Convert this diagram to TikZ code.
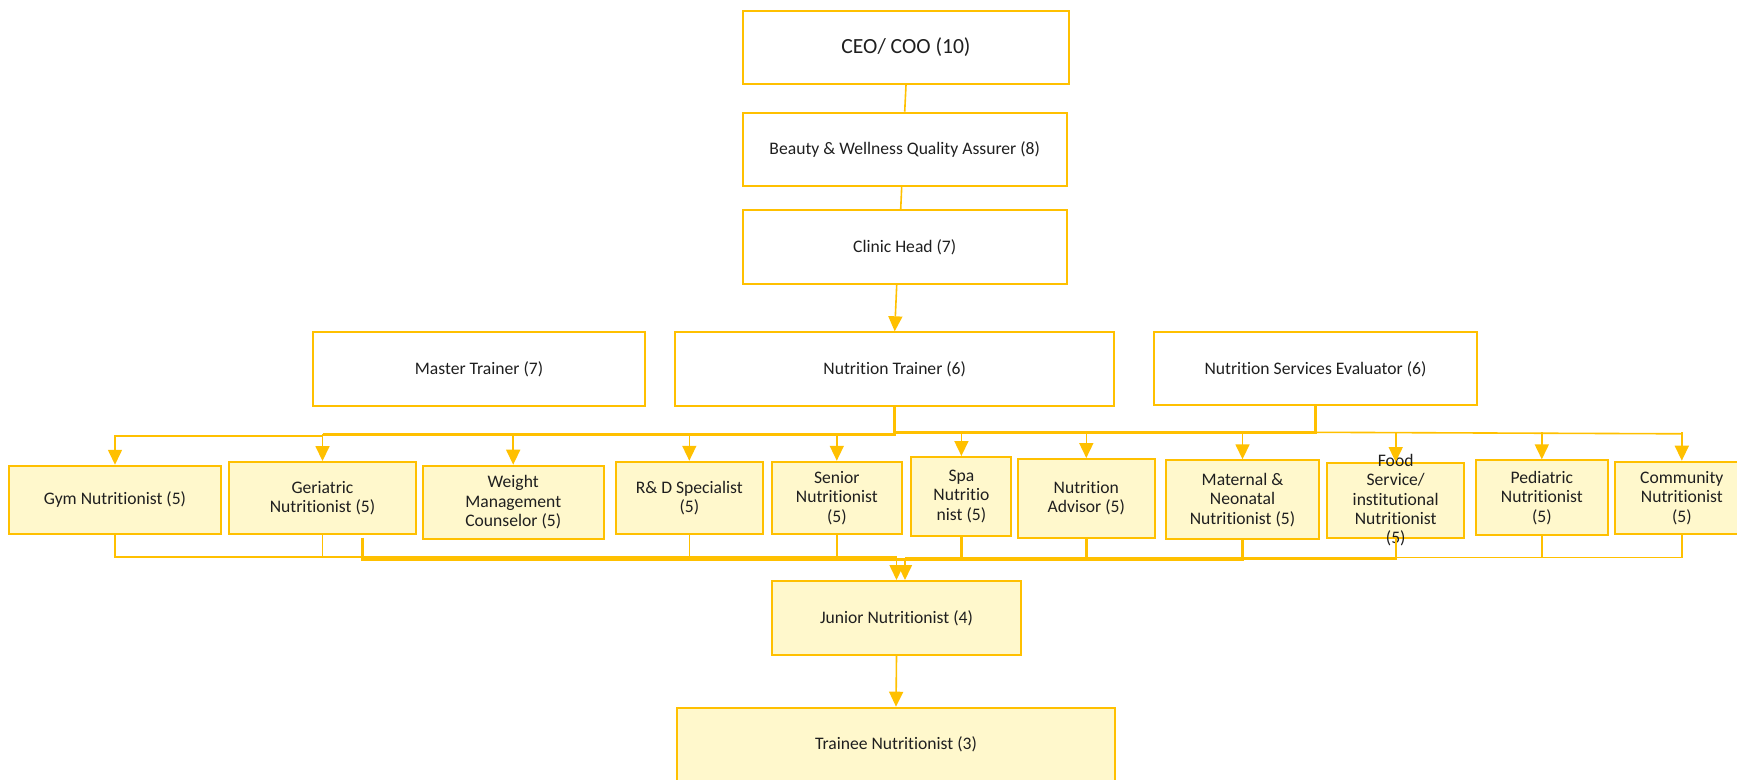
\documentclass[tikz,border=0pt]{standalone}
\usepackage{fontspec}
\setmainfont[Ligatures=NoCommon]{Carlito}
\usetikzlibrary{arrows.meta,calc}
\definecolor{gold}{HTML}{FFC000}
\definecolor{paleyel}{HTML}{FFF8CC}
\begin{document}
\begin{tikzpicture}[x=1pt,y=-1pt,
  box/.style={draw=gold,line width=2pt,inner sep=0pt,align=center,text=black!88,font=\fontsize{17.6}{19.5}\selectfont},
  lbox/.style={box,fill=paleyel},
  conn/.style={draw=gold,line width=1.6pt},
  connthick/.style={draw=gold,line width=3pt},
  tip/.style={-{Triangle[width=14pt,length=15pt]}},
]
\useasboundingbox (0,0) rectangle (1737,779);
% top chain
\node[box,minimum width=326.6pt,minimum height=73.3pt,font=\fontsize{21.6}{25}\selectfont] (ceo) at (906,47.3) {CEO/ COO (10)};
\node[box,minimum width=324pt,minimum height=73pt] (bwqa) at (904.7,149.2) {Beauty \& Wellness Quality Assurer (8)};
\node[box,minimum width=324pt,minimum height=73.7pt] (clinic) at (904.7,247.2) {Clinic Head (7)};
% level 6/7
\node[box,minimum width=331.4pt,minimum height=73.4pt] (mt) at (479,369) {Master Trainer (7)};
\node[box,minimum width=438.7pt,minimum height=73.4pt] (nt) at (894.7,369) {Nutrition Trainer (6)};
\node[box,minimum width=323pt,minimum height=73pt] (nse) at (1315.5,368.8) {Nutrition Services Evaluator (6)};
% level 5
\node[lbox,minimum width=212.4pt,minimum height=68.3pt] (gym) at (115,499.9) {Gym Nutritionist (5)};
\node[lbox,minimum width=187pt,minimum height=72.3pt] (ger) at (322.5,498.2) {Geriatric\\Nutritionist (5)};
\node[lbox,minimum width=181.3pt,minimum height=73.6pt] (wmc) at (513.2,502.5) {Weight\\Management\\Counselor (5)};
\node[lbox,minimum width=147.4pt,minimum height=72.3pt] (rd) at (689.3,497.9) {R\& D Specialist\\(5)};
\node[lbox,minimum width=129.4pt,minimum height=72.3pt] (sen) at (836.8,497.9) {Senior\\Nutritionist\\(5)};
\node[lbox,minimum width=99.9pt,minimum height=79pt] (spa) at (961.4,496.5) {Spa\\Nutritio\\nist (5)};
\node[lbox,minimum width=137pt,minimum height=78.7pt] (adv) at (1086.3,498.4) {Nutrition\\Advisor (5)};
\node[lbox,minimum width=153.1pt,minimum height=79pt] (mat) at (1242.5,499.8) {Maternal \&\\Neonatal\\Nutritionist (5)};
\node[lbox,minimum width=136.6pt,minimum height=74.7pt] (food) at (1395.7,500.4) {};
\node[align=center,inner sep=0pt,text=black!88,font=\fontsize{17.6}{19.3}\selectfont] (foodtxt) at (food.center) {Food\\Service/\\institutional\\Nutritionist\\(5)};
\node[lbox,minimum width=132.1pt,minimum height=74.7pt] (ped) at (1541.8,497.7) {Pediatric\\Nutritionist\\(5)};
\node[lbox,minimum width=134pt,minimum height=72pt] (com) at (1681.8,497.7) {Community\\Nutritionist\\(5)};
% level 4/3
\node[lbox,minimum width=249pt,minimum height=74pt] (jun) at (896.5,618) {Junior Nutritionist (4)};
\node[lbox,minimum width=438pt,minimum height=74pt] (tra) at (896,744.7) {Trainee Nutritionist (3)};
% top connectors
\draw[conn] (ceo.south) -- (bwqa.north);
\draw[conn] ([xshift=-3pt]bwqa.south) -- ([xshift=-4pt]clinic.north);
\draw[conn,tip] ([xshift=-8pt]clinic.south) -- (nt.north);
% NT bus
\coordinate (ntbus) at (894.7,434.3);
\coordinate (gymbus) at (322.5,436);
\draw[connthick] (nt.south) -- (ntbus) -- (ntbus -| ger.north);
\foreach \n in {ger,wmc,rd,sen}{\draw[conn,tip] (ntbus -| \n.north) -- (\n.north);}
\draw[conn,tip] (gymbus) -| (gym.north);
% NSE bus
\coordinate (nsebus) at (1315.5,432.3);
\draw[connthick] (nse.south) -- (nsebus) -- (nsebus -| nt.south);
\draw[conn] (nsebus) -- ($(nsebus -| com.north)+(0,1.5)$);
\foreach \n in {spa,adv,mat,food,ped,com}{\draw[conn,tip] (nsebus -| \n.north) -- (\n.north);}
% bottom buses
\coordinate (lb) at (896.5,556.7);
\coordinate (rb) at (905,559);
\coordinate (wstart) at (362.8,537.7);
\foreach \n in {gym,ger,rd,sen}{\draw[conn] (\n.south) |- (lb);}
\draw[connthick] (wstart) |- (rb);
\foreach \n in {spa,adv,mat}{\draw[connthick] (\n.south) |- (rb);}
\draw[conn] (food.south) |- (rb);
\foreach \n in {ped,com}{\draw[conn] (\n.south) |- ($(rb)+(0,-1.7)$);}
\draw[conn,tip] (lb) -- (lb |- jun.north);
\draw[conn,tip] (rb) -- (rb |- jun.north);
\draw[conn,tip] (jun.south) -- (tra.north);
\end{tikzpicture}
\end{document}
